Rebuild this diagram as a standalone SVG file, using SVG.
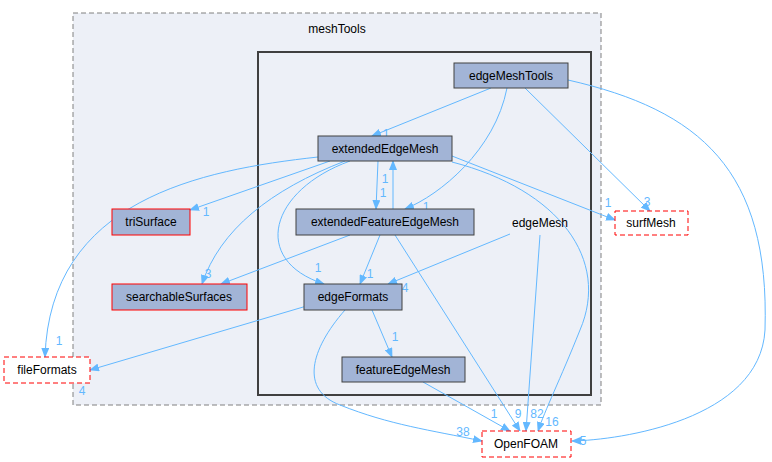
<svg xmlns="http://www.w3.org/2000/svg" width="772" height="462" viewBox="0 0 772 462">
<style>
text{font-family:"Liberation Sans",Arial,sans-serif;font-size:12px;text-anchor:middle}
.n{fill:#a2b4d6;stroke:#404040;stroke-width:1}
.r{fill:#a2b4d6;stroke:#ff0000;stroke-width:1}
.d{fill:#ffffff;stroke:#ff0000;stroke-dasharray:5,3}
.e{fill:none;stroke:#63b8ff;stroke-width:1}
.l{fill:#63b8ff;font-size:12px}
</style>
<defs><marker id="a" markerWidth="10" markerHeight="8" refX="9" refY="4" orient="auto" markerUnits="userSpaceOnUse"><path d="M0,0L10,4L0,8z" fill="#63b8ff"/></marker></defs>
<rect x="73" y="13" width="528" height="392" fill="#edf0f7" stroke="#808080" stroke-dasharray="5,3"/>
<text x="337" y="33">meshTools</text>
<rect x="258" y="52" width="333" height="343" fill="#edf0f7" stroke="#404040" stroke-width="2"/>
<g id="edges">
<path class="e" marker-end="url(#a)" d="M491,88L372,136"/><text class="l" x="386" y="138">1</text>
<path class="e" marker-end="url(#a)" d="M507,88C495,150 440,195 405,209"/><text class="l" x="426" y="211">1</text>
<path class="e" marker-end="url(#a)" d="M525,88L650,211"/><text class="l" x="647" y="206">3</text>
<path class="e" marker-end="url(#a)" d="M568,80C700,110 770,170 765,330C760,420 620,440 572,441"/><text class="l" x="583" y="445">5</text>
<path class="e" marker-end="url(#a)" d="M378,161L376,209"/><text class="l" x="385" y="183">1</text>
<path class="e" marker-end="url(#a)" d="M393,209L393,161"/><text class="l" x="383" y="197">1</text>
<path class="e" marker-end="url(#a)" d="M318,157C200,170 50,200 45,357"/><text class="l" x="59" y="345">1</text>
<path class="e" marker-end="url(#a)" d="M330,161L190,210"/><text class="l" x="206" y="216">1</text>
<path class="e" marker-end="url(#a)" d="M345,161C270,190 220,230 202,284"/><text class="l" x="208" y="278">3</text>
<path class="e" marker-end="url(#a)" d="M350,161C270,190 250,260 324,284"/><text class="l" x="318" y="272">1</text>
<path class="e" marker-end="url(#a)" d="M452,156L615,220"/><text class="l" x="608" y="207">1</text>
<path class="e" marker-end="url(#a)" d="M452,162C560,190 610,260 580,330C560,380 545,410 538,431"/><text class="l" x="552" y="426">16</text>
<path class="e" marker-end="url(#a)" d="M350,235L221,284"/><text class="l" x="240" y="300">3</text>
<path class="e" marker-end="url(#a)" d="M380,235L360,284"/><text class="l" x="370" y="278">1</text>
<path class="e" marker-end="url(#a)" d="M395,235L520,431"/><text class="l" x="518" y="418">9</text>
<path class="e" marker-end="url(#a)" d="M510,234L388,284"/><text class="l" x="405" y="292">4</text>
<path class="e" marker-end="url(#a)" d="M540,235L526,431"/><text class="l" x="537" y="418">82</text>
<path class="e" marker-end="url(#a)" d="M310,305L90,370"/><text class="l" x="82" y="395">4</text>
<path class="e" marker-end="url(#a)" d="M372,310L392,357"/><text class="l" x="395" y="341">1</text>
<path class="e" marker-end="url(#a)" d="M345,310C310,350 300,390 340,405C390,425 430,430 482,441"/><text class="l" x="463" y="436">38</text>
<path class="e" marker-end="url(#a)" d="M423,382L510,431"/><text class="l" x="494" y="418">1</text>
</g>
<g id="edgeMeshTools"><rect class="n" x="454" y="63" width="114" height="25"/><text x="511" y="80">edgeMeshTools</text></g>
<g id="extendedEdgeMesh"><rect class="n" x="318" y="136" width="134" height="25"/><text x="385" y="153">extendedEdgeMesh</text></g>
<g id="extendedFeatureEdgeMesh"><rect class="n" x="296" y="209" width="178" height="26"/><text x="385" y="226">extendedFeatureEdgeMesh</text></g>
<g id="edgeMesh"><text x="540" y="227">edgeMesh</text></g>
<g id="edgeFormats"><rect class="n" x="304" y="284" width="98" height="26"/><text x="353" y="301">edgeFormats</text></g>
<g id="featureEdgeMesh"><rect class="n" x="342" y="357" width="123" height="25"/><text x="403" y="374">featureEdgeMesh</text></g>
<g id="triSurface"><rect class="r" x="112" y="209" width="78" height="26"/><text x="151" y="226">triSurface</text></g>
<g id="searchableSurfaces"><rect class="r" x="112" y="284" width="135" height="26"/><text x="179" y="301">searchableSurfaces</text></g>
<g id="surfMesh"><rect class="d" x="615" y="211" width="73" height="24"/><text x="651" y="227">surfMesh</text></g>
<g id="fileFormats"><rect class="d" x="4" y="357" width="86" height="26"/><text x="47" y="374">fileFormats</text></g>
<g id="OpenFOAM"><rect class="d" x="482" y="431" width="89" height="26"/><text x="526" y="448">OpenFOAM</text></g>
</svg>
